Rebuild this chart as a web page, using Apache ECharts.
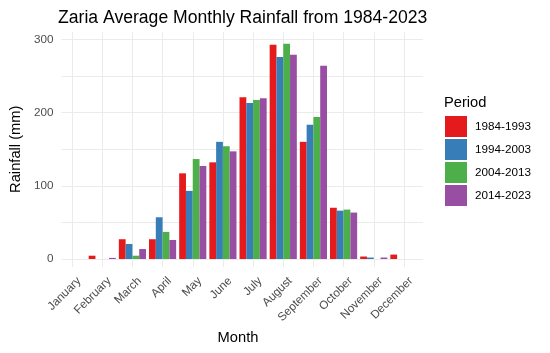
<!DOCTYPE html>
<html>
<head>
	<meta charset="utf-8">
	<title>Zaria rainfall</title>
	<script src="https://cdn.jsdelivr.net/npm/echarts@6/dist/echarts.min.js"></script>
	<style>
		html, body { margin: 0; padding: 0; background: #fff; }
	</style>
</head>
<body>
	<div id="echart" style="width: 550px; height: 353px"></div>
	<script>
		// data (mm)
		let months = ['January', 'February', 'March', 'April', 'May', 'June', 'July',
			'August', 'September', 'October', 'November', 'December'];
		let periods = ['1984-1993', '1994-2003', '2004-2013', '2014-2023'];
		let p1984 = [0, 4.5, 27, 27, 117, 132, 221, 292.5, 160, 70, 3.4, 6];
		let p1994 = [0, 0, 20.5, 57, 93, 160, 213, 276, 183.5, 66, 2, 0];
		let p2004 = [0, 0, 4.5, 37, 136.5, 154, 217, 294, 194, 67.5, 0, 0];
		let p2014 = [0, 1.5, 13.6, 26, 127, 147, 219.5, 279, 264, 63.4, 2, 0];
		let yTicks = [0, 100, 200, 300];

		let colors = ['#E41A1C', '#377EB8', '#4DAF4A', '#984EA3'];
		let values = [p1984, p1994, p2004, p2014];
		let font = 'Liberation Sans, Arial, sans-serif';

		let mychart = echarts.init(document.getElementById('echart'));
		let option = {
			animation: false,
			color: colors,
			title: [{
				text: 'Zaria Average Monthly Rainfall from 1984-2023',
				left: 53,
				top: 4,
				textStyle: {fontFamily: font, fontSize: 17.6, fontWeight: 'normal', color: '#000'}
			}, {
				text: 'Period',
				left: 444,
				top: 95,
				padding: 0,
				textStyle: {fontFamily: font, fontSize: 14.7, fontWeight: 'normal', color: '#000'}
			}],
			legend: {
				orient: 'vertical',
				left: 445,
				top: 116,
				padding: 0,
				itemWidth: 22,
				itemHeight: 21,
				itemGap: 2,
				icon: 'rect',
				data: periods,
				textStyle: {fontFamily: font, fontSize: 11.7, color: '#000', padding: [0, 0, 0, 3]}
			},
			grid: [
				// bars
				{left: 57, right: 131, top: 32, bottom: 94},
				// horizontal grid lines, full panel width
				{left: 53, right: 127, top: 39.5, bottom: 94},
				// vertical grid lines, full panel height
				{left: 57, right: 131, top: 32, bottom: 86}
			],
			xAxis: [{
				gridIndex: 0,
				type: 'category',
				data: months,
				axisLine: {show: false},
				axisTick: {show: false},
				splitLine: {show: false},
				axisLabel: {
					interval: 0, rotate: 45, margin: 13,
					verticalAlign: 'top', padding: [4, 0, 0, 0],
					fontFamily: font, fontSize: 11.7, color: '#4d4d4d'
				},
				name: 'Month',
				nameLocation: 'middle',
				nameGap: 70,
				nameTextStyle: {fontFamily: font, fontSize: 14.7, color: '#000'}
			}, {
				gridIndex: 1,
				type: 'value',
				show: false
			}, {
				gridIndex: 2,
				type: 'category',
				data: months,
				axisLine: {show: false},
				axisTick: {show: false},
				axisLabel: {show: false},
				splitLine: {show: true, interval: 0, alignWithLabel: true, lineStyle: {color: '#ebebeb', width: 1}}
			}],
			yAxis: [{
				gridIndex: 0,
				type: 'value',
				min: 0,
				max: 310,
				show: false
			}, {
				gridIndex: 1,
				type: 'value',
				min: 0,
				max: 300,
				interval: 50,
				axisLine: {show: false},
				axisTick: {show: false},
				splitLine: {show: true, lineStyle: {color: '#ebebeb', width: 1}},
				axisLabel: {
					margin: 8,
					fontFamily: font, fontSize: 11.7, color: '#4d4d4d',
					formatter: function (v) { return yTicks.indexOf(v) >= 0 ? String(v) : ''; }
				},
				name: 'Rainfall (mm)',
				nameLocation: 'middle',
				nameGap: 31,
				nameTextStyle: {fontFamily: font, fontSize: 14.7, color: '#000'}
			}, {
				gridIndex: 2,
				type: 'value',
				show: false
			}],
			series: periods.map(function (p, i) {
				return {
					name: p,
					type: 'bar',
					xAxisIndex: 0,
					yAxisIndex: 0,
					barGap: '0%',
					barCategoryGap: '10%',
					data: values[i]
				};
			})
		};
		mychart.setOption(option);
	</script>
</body>
</html>
